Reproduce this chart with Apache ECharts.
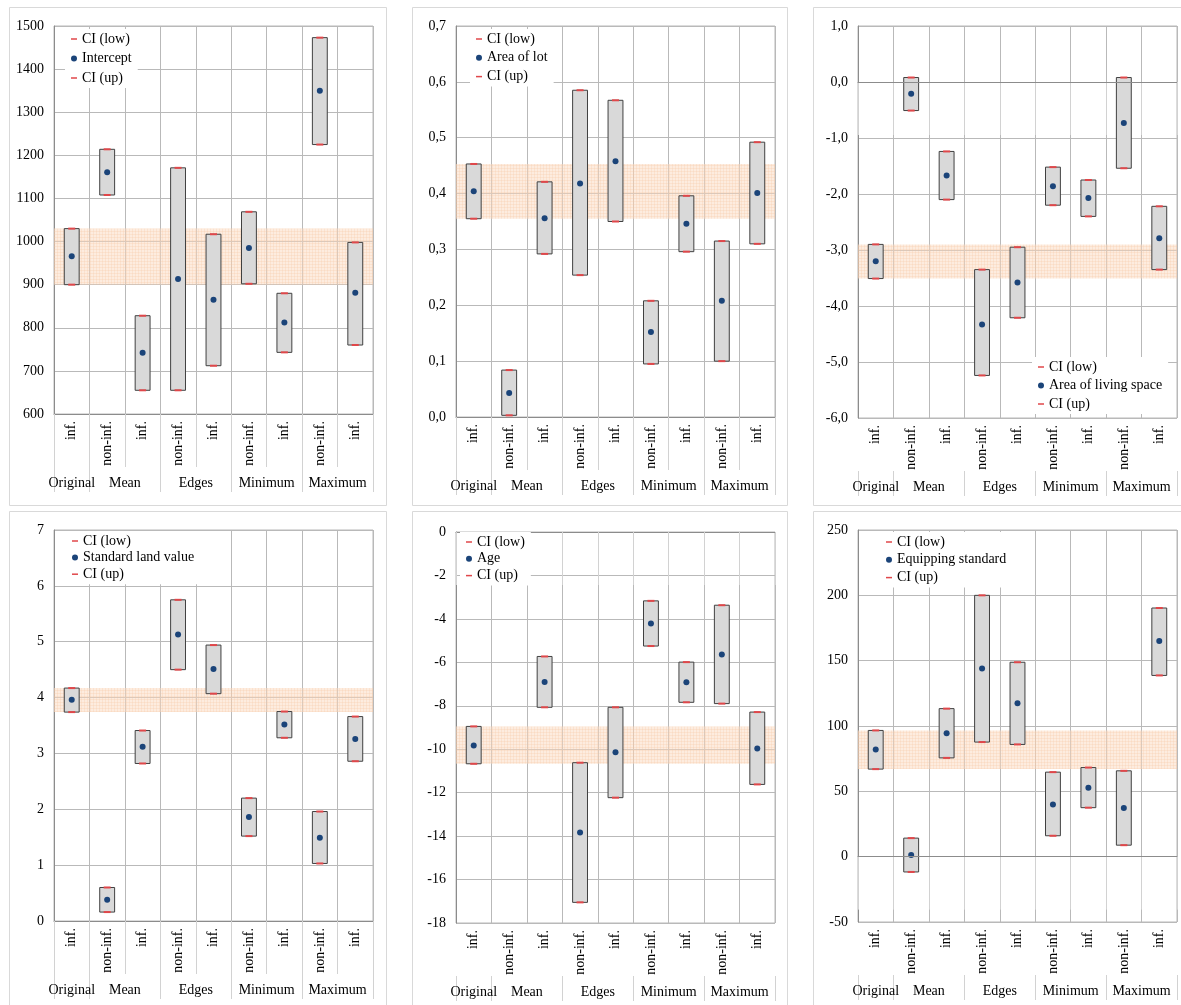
<!DOCTYPE html>
<html>
<head>
<meta charset="utf-8">
<script src="https://cdn.jsdelivr.net/npm/echarts@6/dist/echarts.min.js"></script>
<style>
  html, body { margin: 0; padding: 0; background: #ffffff; }
  #chart { width: 1181px; height: 1005px; }
</style>
</head>
<body>
<div id="chart"></div>
<script>
// Category levels of the shared x axis
const categories = ['inf.', 'non-inf.', 'inf.', 'non-inf.', 'inf.', 'non-inf.', 'inf.', 'non-inf.', 'inf.'];
const groupNames = ['Original', 'Mean', 'Edges', 'Minimum', 'Maximum'];
const groupSizes = [1, 2, 2, 2, 2];

// Intercept
const interceptLow = [900, 1108, 655, 655, 712, 902, 743, 1225, 760];
const interceptEst = [966, 1161, 742, 913, 865, 985, 812, 1350, 881];
const interceptUp  = [1030, 1214, 828, 1171, 1017, 1069, 880, 1473, 998];

// Area of lot
const lotLow = [0.355, 0.003, 0.292, 0.254, 0.350, 0.095, 0.296, 0.100, 0.310];
const lotEst = [0.404, 0.043, 0.356, 0.418, 0.458, 0.152, 0.346, 0.208, 0.401];
const lotUp  = [0.453, 0.084, 0.421, 0.585, 0.567, 0.208, 0.396, 0.315, 0.492];

// Area of living space
const livingLow = [-3.51, -0.51, -2.10, -5.24, -4.21, -2.20, -2.40, -1.54, -3.35];
const livingEst = [-3.20, -0.21, -1.67, -4.33, -3.58, -1.86, -2.07, -0.73, -2.79];
const livingUp  = [-2.90, 0.08, -1.24, -3.35, -2.95, -1.52, -1.75, 0.08, -2.22];

// Standard land value
const landLow = [3.74, 0.16, 2.82, 4.50, 4.07, 1.52, 3.28, 1.03, 2.86];
const landEst = [3.96, 0.38, 3.12, 5.13, 4.51, 1.86, 3.52, 1.49, 3.26];
const landUp  = [4.17, 0.60, 3.41, 5.75, 4.94, 2.20, 3.75, 1.96, 3.66];

// Age
const ageLow = [-10.67, null, -8.07, -17.05, -12.23, -5.25, -7.84, -7.90, -11.62];
const ageEst = [-9.83, null, -6.90, -13.83, -10.14, -4.21, -6.92, -5.64, -9.97];
const ageUp  = [-8.95, null, -5.73, -10.62, -8.07, -3.17, -5.99, -3.37, -8.29];

// Equipping standard
const equipLow = [67.0, -11.7, 75.6, 87.7, 85.9, 16.0, 37.5, 8.8, 138.7];
const equipEst = [82.0, 1.2, 94.4, 144.1, 117.4, 40.0, 52.7, 37.3, 165.0];
const equipUp  = [96.6, 14.2, 113.3, 200.0, 148.8, 64.7, 68.2, 65.7, 190.3];

// Value axis ranges and label decimals per panel
const axisMin      = [600, 0, -6, 0, -18, -50];
const axisMax      = [1500, 0.7, 1, 7, 0, 250];
const axisStep     = [100, 0.1, 1, 1, 2, 50];
const axisDecimals = [0, 1, 1, 0, 0, 0];

const panels = [
  { name: 'Intercept',            low: interceptLow, est: interceptEst, up: interceptUp },
  { name: 'Area of lot',          low: lotLow,       est: lotEst,       up: lotUp },
  { name: 'Area of living space', low: livingLow,    est: livingEst,    up: livingUp },
  { name: 'Standard land value',  low: landLow,      est: landEst,      up: landUp },
  { name: 'Age',                  low: ageLow,       est: ageEst,       up: ageUp },
  { name: 'Equipping standard',   low: equipLow,     est: equipEst,     up: equipUp }
];

// Page layout: plot rectangles, legend placement and panel frames
const plotBoxes = [
  { left: 54,  top: 26,  width: 319, height: 388 },
  { left: 456, top: 26,  width: 319, height: 391 },
  { left: 858, top: 26,  width: 319, height: 392 },
  { left: 54,  top: 530, width: 319, height: 391 },
  { left: 456, top: 532, width: 319, height: 391 },
  { left: 858, top: 530, width: 319, height: 392 }
];
const legendBoxes = [
  { left: 65,   top: 29,  gap: 5.5 },
  { left: 470,  top: 29,  gap: 4.8 },
  { left: 1032, top: 357, gap: 4.5 },
  { left: 66,   top: 531, gap: 2.6 },
  { left: 460,  top: 532, gap: 2.8 },
  { left: 880,  top: 532, gap: 3.8 }
];
const frames = [
  { x: 9,   y: 7,   w: 377, h: 498 },
  { x: 412, y: 7,   w: 375, h: 498 },
  { x: 813, y: 7,   w: 380, h: 498 },
  { x: 9,   y: 511, w: 377, h: 500 },
  { x: 412, y: 511, w: 375, h: 500 },
  { x: 813, y: 511, w: 380, h: 500 }
];

const FONT = 'Liberation Serif';
const GRID_COLOR = '#b9b9b9';
const AXIS_COLOR = '#8c8c8c';
const TICK_COLOR = '#d2d2d2';
const CI_COLOR = '#e0474a';
const DOT_COLOR = '#1b4479';
const DASH_ICON = 'path://M0,0H8V2H0Z';

// Group boundaries and centres on a 0..n scale derived from the group sizes
const groupBounds = [0];
groupSizes.forEach(s => groupBounds.push(groupBounds[groupBounds.length - 1] + s));
const groupCenters = groupSizes.map((s, i) => groupBounds[i] + s / 2);

// Light orange fine mesh for the original confidence band
function makeHatch() {
  const c = document.createElement('canvas');
  c.width = 3; c.height = 3;
  const ctx = c.getContext('2d');
  ctx.fillStyle = 'rgba(252, 218, 192, 0.50)';
  ctx.fillRect(0, 0, 3, 3);
  ctx.fillStyle = 'rgba(248, 190, 150, 0.22)';
  ctx.fillRect(0, 0, 3, 1);
  ctx.fillRect(0, 0, 1, 3);
  return c;
}
const hatch = { image: makeHatch(), repeat: 'repeat' };

function labelFormatter(decimals) {
  return v => decimals ? v.toFixed(decimals).replace('.', ',') : String(Math.round(v));
}

const chart = echarts.init(document.getElementById('chart'), null, { renderer: 'canvas' });

const grid = [], xAxis = [], yAxis = [], series = [], legend = [], graphics = [];

panels.forEach((p, i) => {
  const box = plotBoxes[i];
  grid.push({ left: box.left, top: box.top, width: box.width, height: box.height,
              show: true, borderColor: GRID_COLOR, borderWidth: 1, backgroundColor: 'transparent' });

  // first level: individual categories with rotated labels
  xAxis.push({
    type: 'category', gridIndex: i, data: categories, position: 'bottom',
    axisLine: { show: true, lineStyle: { color: AXIS_COLOR } },
    axisTick: { show: true, interval: 0, length: 53, lineStyle: { color: TICK_COLOR } },
    axisLabel: { interval: 0, rotate: 90, margin: 7, fontFamily: FONT, fontSize: 14, color: '#000' },
    splitLine: { show: true, interval: 0, lineStyle: { color: GRID_COLOR } }
  });
  // second level: group names between group separators
  xAxis.push({
    type: 'value', gridIndex: i, min: 0, max: categories.length, position: 'bottom', offset: 53,
    axisLine: { show: false },
    splitLine: { show: false },
    axisTick: { show: true, length: 25, customValues: groupBounds, lineStyle: { color: TICK_COLOR } },
    axisLabel: {
      customValues: groupCenters, margin: 9, fontFamily: FONT, fontSize: 14, color: '#000',
      formatter: v => {
        const k = groupCenters.findIndex(c => Math.abs(c - v) < 1e-6);
        return k >= 0 ? groupNames[k] : '';
      }
    }
  });
  yAxis.push({
    type: 'value', gridIndex: i, min: axisMin[i], max: axisMax[i], interval: axisStep[i],
    axisLine: { show: true, lineStyle: { color: AXIS_COLOR } },
    axisTick: { show: false },
    splitLine: { show: true, lineStyle: { color: GRID_COLOR } },
    axisLabel: { formatter: labelFormatter(axisDecimals[i]), margin: 10, fontFamily: FONT, fontSize: 14, color: '#000' }
  });

  const xi = 2 * i;
  const hasZero = axisMin[i] < 0 && axisMax[i] > 0;

  // band of the original model's confidence interval
  series.push({
    type: 'custom', name: 'band' + i, xAxisIndex: xi, yAxisIndex: i, z: 1, silent: true,
    data: [[0, p.low[0]]],
    renderItem: () => ({ type: 'group', children: [] }),
    markArea: {
      silent: true,
      itemStyle: { color: hatch, borderWidth: 0 },
      data: [[{ yAxis: p.low[0] }, { yAxis: p.up[0] }]]
    },
    markLine: hasZero ? {
      silent: true, symbol: 'none', label: { show: false },
      lineStyle: { color: AXIS_COLOR, width: 1, type: 'solid' },
      data: [{ yAxis: 0 }]
    } : undefined
  });

  // confidence interval boxes
  const boxData = [];
  p.low.forEach((lo, j) => {
    if (lo != null && p.up[j] != null) boxData.push([j, lo, p.up[j]]);
  });
  series.push({
    type: 'custom', name: 'box' + i, xAxisIndex: xi, yAxisIndex: i, z: 2, silent: true,
    encode: { x: 0, y: [1, 2] },
    data: boxData,
    renderItem: (params, api) => {
      const x = api.value(0);
      const top = api.coord([x, api.value(2)]);
      const bottom = api.coord([x, api.value(1)]);
      const w = api.size([1, 0])[0] * 0.42;
      return {
        type: 'rect',
        shape: { x: top[0] - w / 2, y: top[1], width: w, height: bottom[1] - top[1] },
        style: { fill: '#d9d9d9', stroke: '#404040', lineWidth: 1 }
      };
    }
  });

  series.push({
    type: 'scatter', name: 'CI (low)', xAxisIndex: xi, yAxisIndex: i, z: 3,
    symbol: 'rect', symbolSize: [7, 2], itemStyle: { color: CI_COLOR, opacity: 1 },
    data: p.low
  });
  series.push({
    type: 'scatter', name: p.name, xAxisIndex: xi, yAxisIndex: i, z: 4,
    symbol: 'circle', symbolSize: 6, itemStyle: { color: DOT_COLOR, opacity: 1 },
    data: p.est
  });
  series.push({
    type: 'scatter', name: 'CI (up)', xAxisIndex: xi, yAxisIndex: i, z: 3,
    symbol: 'rect', symbolSize: [7, 2], itemStyle: { color: CI_COLOR, opacity: 1 },
    data: p.up
  });

  const lb = legendBoxes[i];
  legend.push({
    left: lb.left, top: lb.top, orient: 'vertical', itemGap: lb.gap,
    itemWidth: 6, itemHeight: 6, selectedMode: false,
    backgroundColor: '#ffffff', padding: [3, 6, 3, 6],
    textStyle: { fontFamily: FONT, fontSize: 14, color: '#000' },
    data: [
      { name: 'CI (low)', icon: DASH_ICON, itemStyle: { color: CI_COLOR, opacity: 1 } },
      { name: p.name, icon: 'circle', itemStyle: { color: DOT_COLOR, opacity: 1 } },
      { name: 'CI (up)', icon: DASH_ICON, itemStyle: { color: CI_COLOR, opacity: 1 } }
    ]
  });

  const f = frames[i];
  graphics.push({
    type: 'rect', z: -5, silent: true,
    shape: { x: f.x + 0.5, y: f.y + 0.5, width: f.w, height: f.h },
    style: { fill: 'none', stroke: '#d9d9d9', lineWidth: 1 }
  });
});

chart.setOption({
  animation: false,
  backgroundColor: '#ffffff',
  textStyle: { fontFamily: FONT },
  grid, xAxis, yAxis, series, legend,
  graphic: graphics
});
</script>
</body>
</html>
